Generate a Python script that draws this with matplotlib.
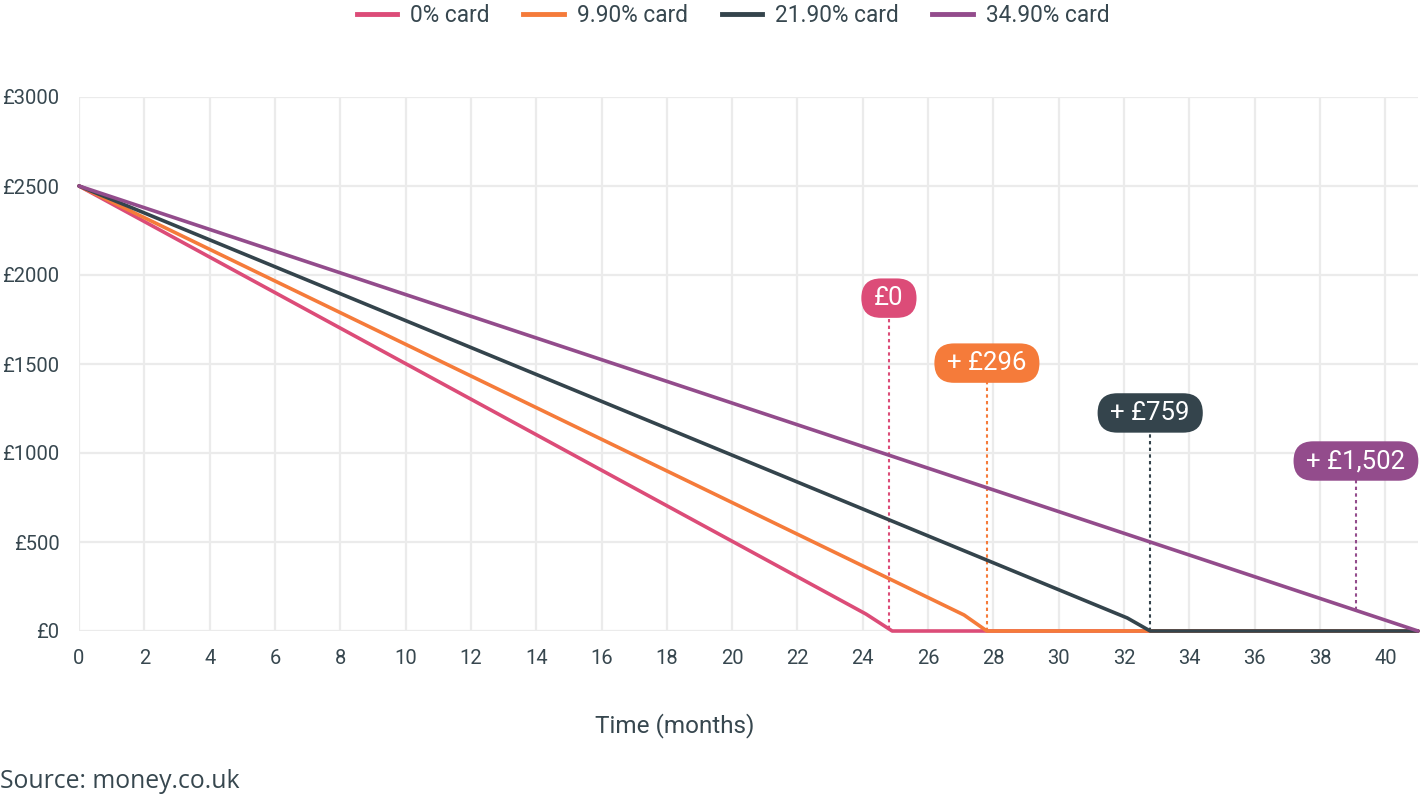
import matplotlib
matplotlib.use("Agg")
import matplotlib.pyplot as plt
import matplotlib.patches as mpatches
from matplotlib.lines import Line2D
import numpy as np

# data (balance in £ against months)
series_names = ["0% card", "9.90% card", "21.90% card", "34.90% card"]
colors = ["#dc4c78", "#f57b3a", "#34444c", "#934c8c"]

months_0 = [0, 24.1, 24.9, 41]
balance_0 = [2500, 95, 0, 0]
months_99 = [0, 27.1, 27.8, 41]
balance_99 = [2500, 90, 0, 0]
months_219 = [0, 32.1, 32.8, 41]
balance_219 = [2500, 73, 0, 0]
months_349 = [0, 41]
balance_349 = [2500, 0]

# extra interest paid labels
label_text = ["£0", "+ £296", "+ £759", "+ £1,502"]
label_x = [24.8, 27.8, 32.8, 39.1]
label_y = [1870, 1505, 1225, 955]

xticks = list(range(0, 41, 2))
yticks = [0, 500, 1000, 1500, 2000, 2500, 3000]

TEXT = "#37474f"
GRID = "#ebebeb"

plt.rcParams["font.family"] = ["Roboto", "DejaVu Sans"]


def pill(x0, y0, width, height, mutation_size):
    padx = 0.5 * mutation_size
    pady = 0.3 * mutation_size
    x0 -= padx
    y0 -= pady
    width += 2 * padx
    height += 2 * pady
    r = height / 2
    return mpatches.BoxStyle.Round(pad=0, rounding_size=r)(x0, y0, width, height, 1)


fig = plt.figure(figsize=(14.2, 7.98), dpi=100)
ax = fig.add_axes([79 / 1420, 1 - 631 / 798, (1418 - 79) / 1420, (631 - 97) / 798])
ax.set_xlim(0, 41)
ax.set_ylim(0, 3000)

for s in ax.spines.values():
    s.set_visible(False)
ax.set_xticks(xticks)
ax.set_yticks(yticks)
ax.set_yticklabels([f"£{v}" for v in yticks])
ax.tick_params(length=0, labelsize=14.5, labelcolor=TEXT)
ax.tick_params(axis="y", pad=14)
ax.tick_params(axis="x", pad=13)
ax.grid(True, color=GRID, linewidth=1.6)
ax.set_axisbelow(True)

all_months = [months_0, months_99, months_219, months_349]
all_balance = [balance_0, balance_99, balance_219, balance_349]

for m, b, c in zip(all_months, all_balance, colors):
    ax.plot(m, b, color=c, linewidth=2.6, solid_joinstyle="round",
            solid_capstyle="round", clip_on=False, zorder=3)

# dotted drop lines + pill labels
for i, (txt, x, y) in enumerate(zip(label_text, label_x, label_y)):
    c = colors[i]
    bottom = np.interp(x, all_months[i], all_balance[i])
    if i == 3:
        bottom = np.interp(x, months_349, balance_349)
    ax.plot([x, x], [bottom, y - 100], color=c, linewidth=1.5,
            linestyle=(0, (1.6, 1.6)), zorder=2)
    ax.text(x, y, txt, ha="center", va="center", color="white", fontsize=18.5,
            bbox=dict(boxstyle=pill, fc=c, ec="none"), zorder=5)

handles = [Line2D([], [], color=c, linewidth=3.5) for c in colors]
fig.legend(handles, series_names, loc="center", bbox_to_anchor=(733 / 1420, 1 - 15 / 798),
           ncol=4, frameon=False, fontsize=16.3, handlelength=1.8, handletextpad=0.55,
           columnspacing=1.5, labelcolor=TEXT)

fig.text(675 / 1420, 1 - 726 / 798, "Time (months)", ha="center", va="center",
         fontsize=17.5, color=TEXT)
fig.text(0, 1 - 782 / 798, "Source: money.co.uk", ha="left", va="center",
         fontsize=17.8, color=TEXT, family=["Open Sans", "DejaVu Sans"])

fig.savefig("out.png", dpi=100, facecolor="white")
